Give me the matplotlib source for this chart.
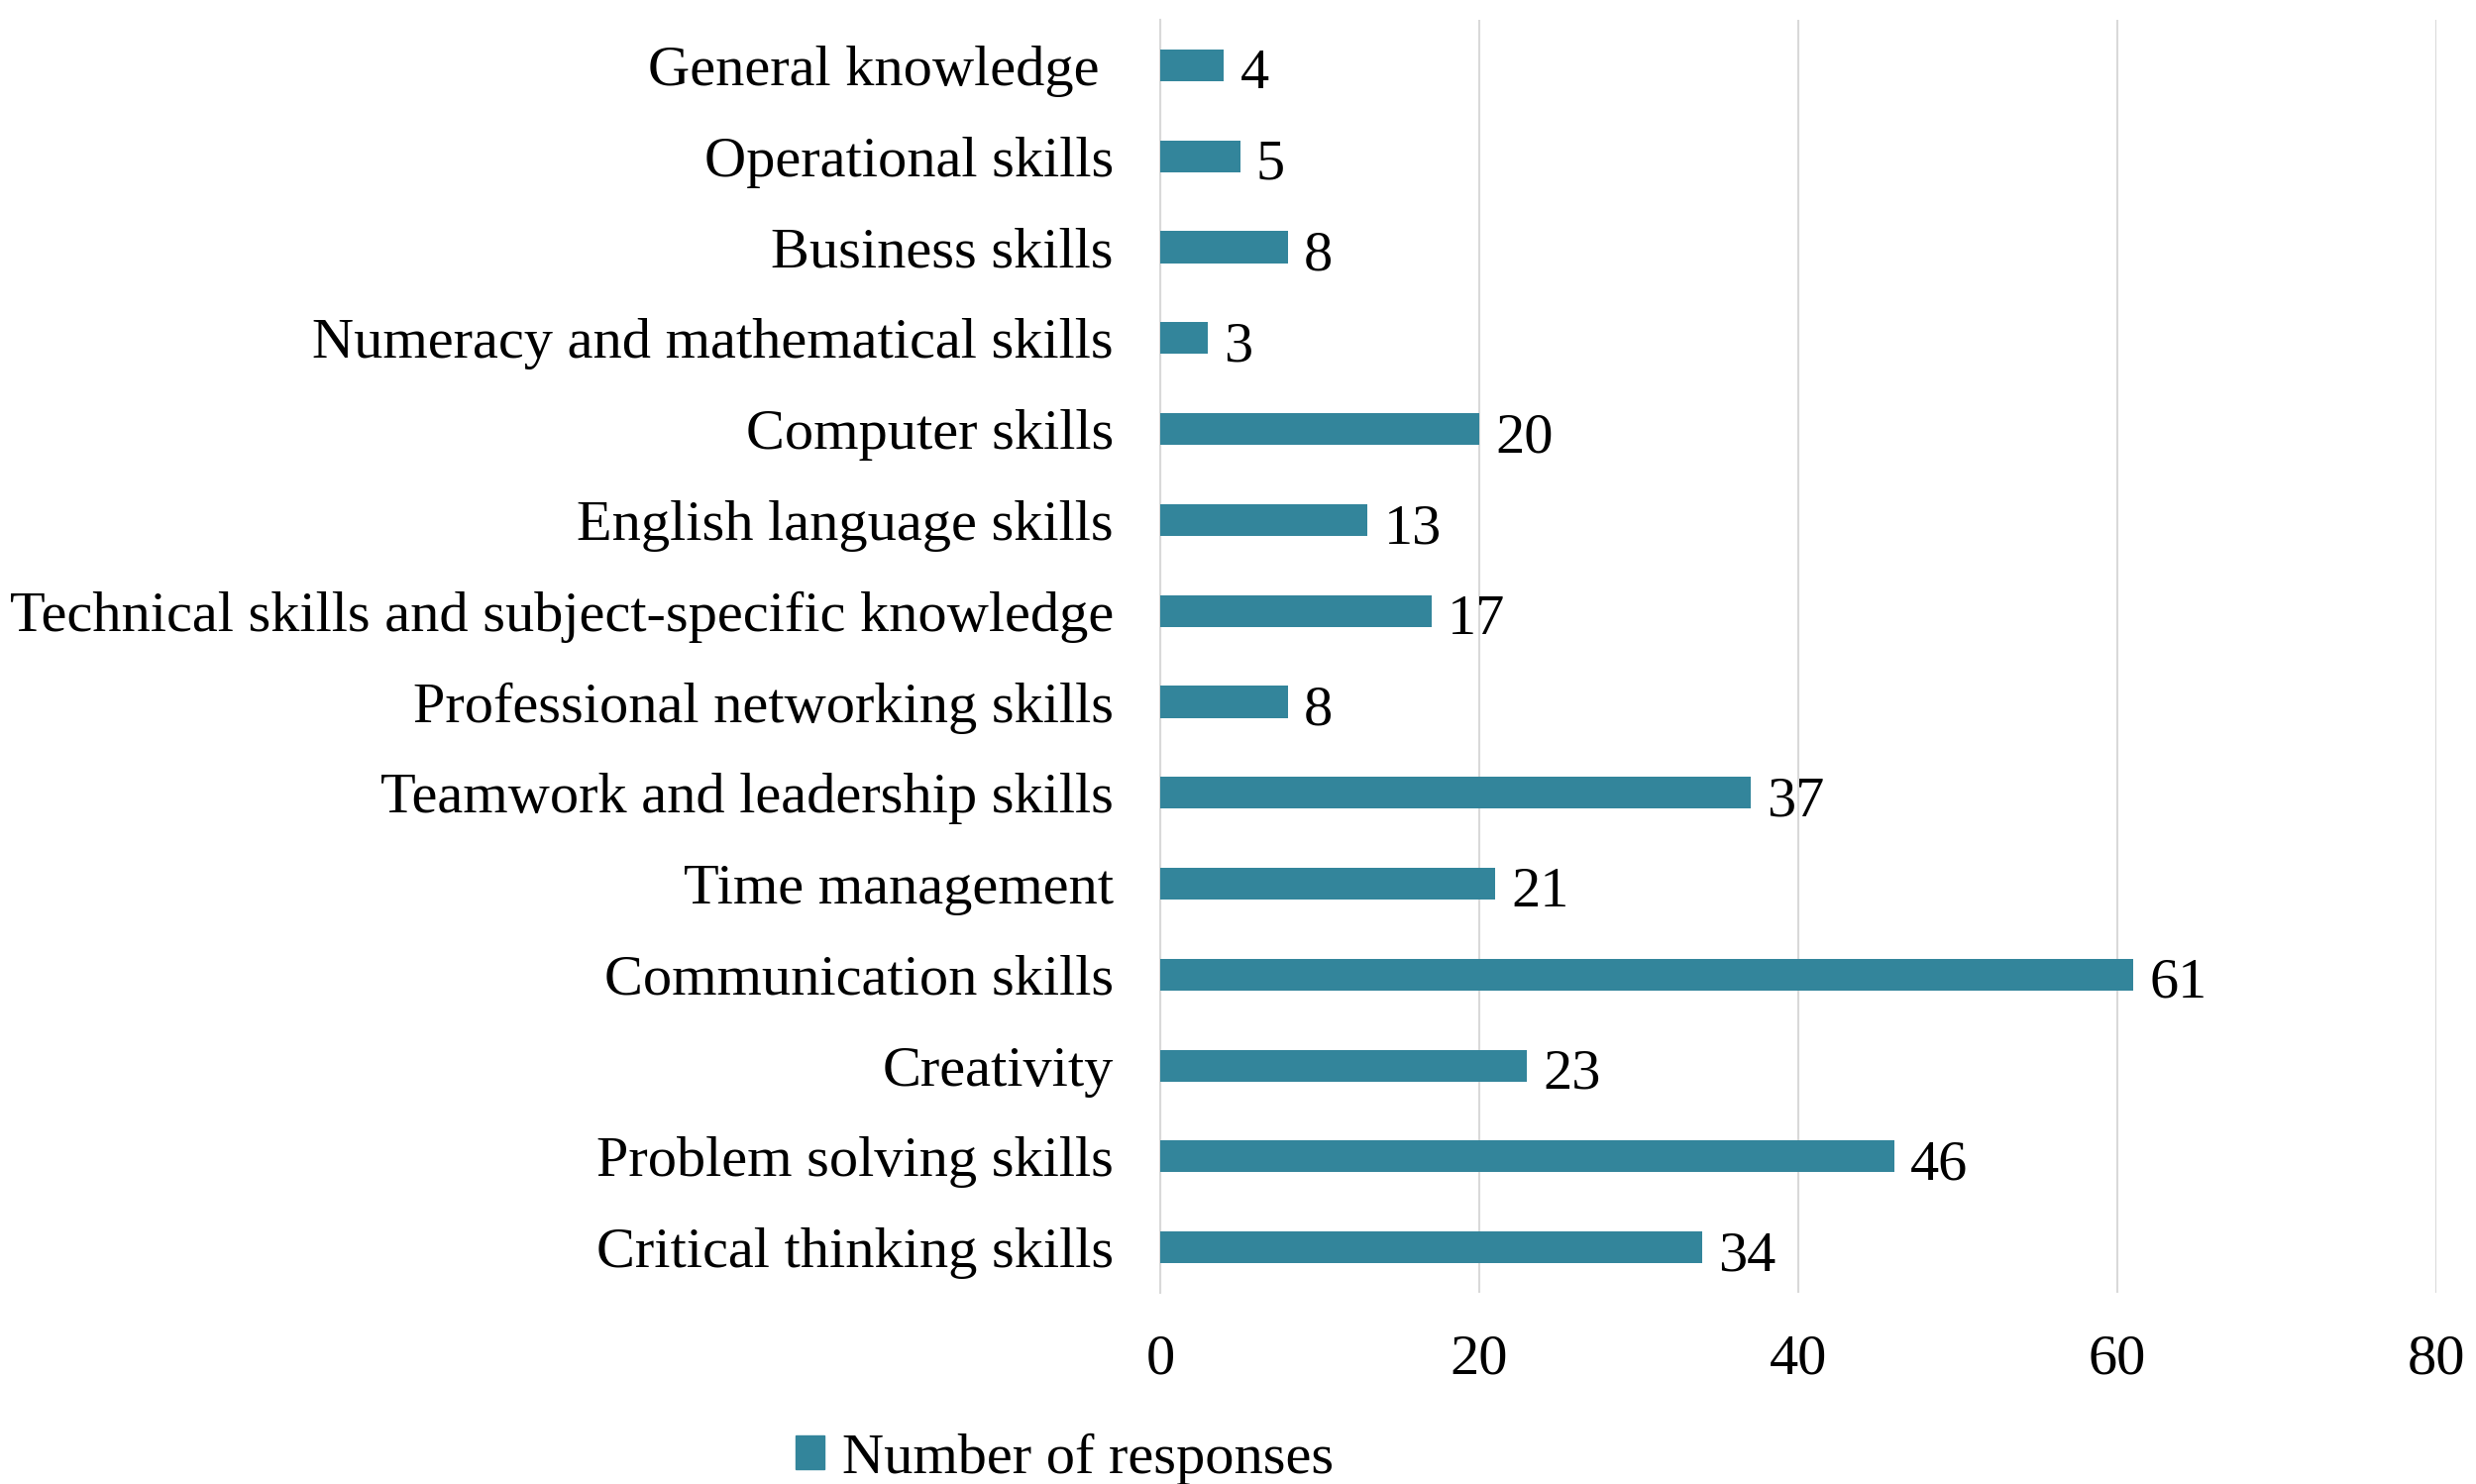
import matplotlib.pyplot as plt
from matplotlib.patches import Patch

skills = ['Critical thinking skills', 'Problem solving skills', 'Creativity',
          'Communication skills', 'Time management', 'Teamwork and leadership skills',
          'Professional networking skills',
          'Technical skills and subject-specific knowledge',
          'English language skills', 'Computer skills',
          'Numeracy and mathematical skills', 'Business skills',
          'Operational skills', 'General knowledge ']
responses = [34, 46, 23, 61, 21, 37, 8, 17, 13, 20, 3, 8, 5, 4]
xticks = [0, 20, 40, 60, 80]

bar_color = '#33859b'
plt.rcParams['font.family'] = ['Liberation Serif', 'DejaVu Serif']
fs = 42

fig = plt.figure(figsize=(24.99, 14.98), dpi=100)
ax = fig.add_axes([0.4686, 0.1288, 0.5154, 0.8578])

ypos = range(len(skills))
ax.barh(ypos, responses, height=0.35, color=bar_color, zorder=3)
for y, v in zip(ypos, responses):
    ax.text(v + 1.0, y - 0.1, str(v), va='center', ha='left', fontsize=fs)

ax.set_ylim(-0.5, len(skills) - 0.5)
ax.set_xlim(0, 80)
ax.set_yticks(list(ypos))
ax.set_yticklabels(skills, fontsize=fs)
ax.set_xticks(xticks)
ax.set_xticklabels([str(t) for t in xticks], fontsize=fs)
ax.tick_params(axis='both', length=0)
ax.tick_params(axis='y', pad=34)
ax.tick_params(axis='x', pad=30)
ax.grid(axis='x', color='#d9d9d9', linewidth=1.5, zorder=0)
for s in ['top', 'right', 'bottom']:
    ax.spines[s].set_visible(False)
ax.spines['left'].set_color('#d9d9d9')
ax.spines['left'].set_linewidth(1.5)

fig.legend(handles=[Patch(color=bar_color, label='Number of responses')],
           loc='center', bbox_to_anchor=(0.43, 0.017), frameon=False,
           fontsize=fs, handlelength=0.5, handleheight=0.5, handletextpad=0.3)

fig.savefig('out.png')
